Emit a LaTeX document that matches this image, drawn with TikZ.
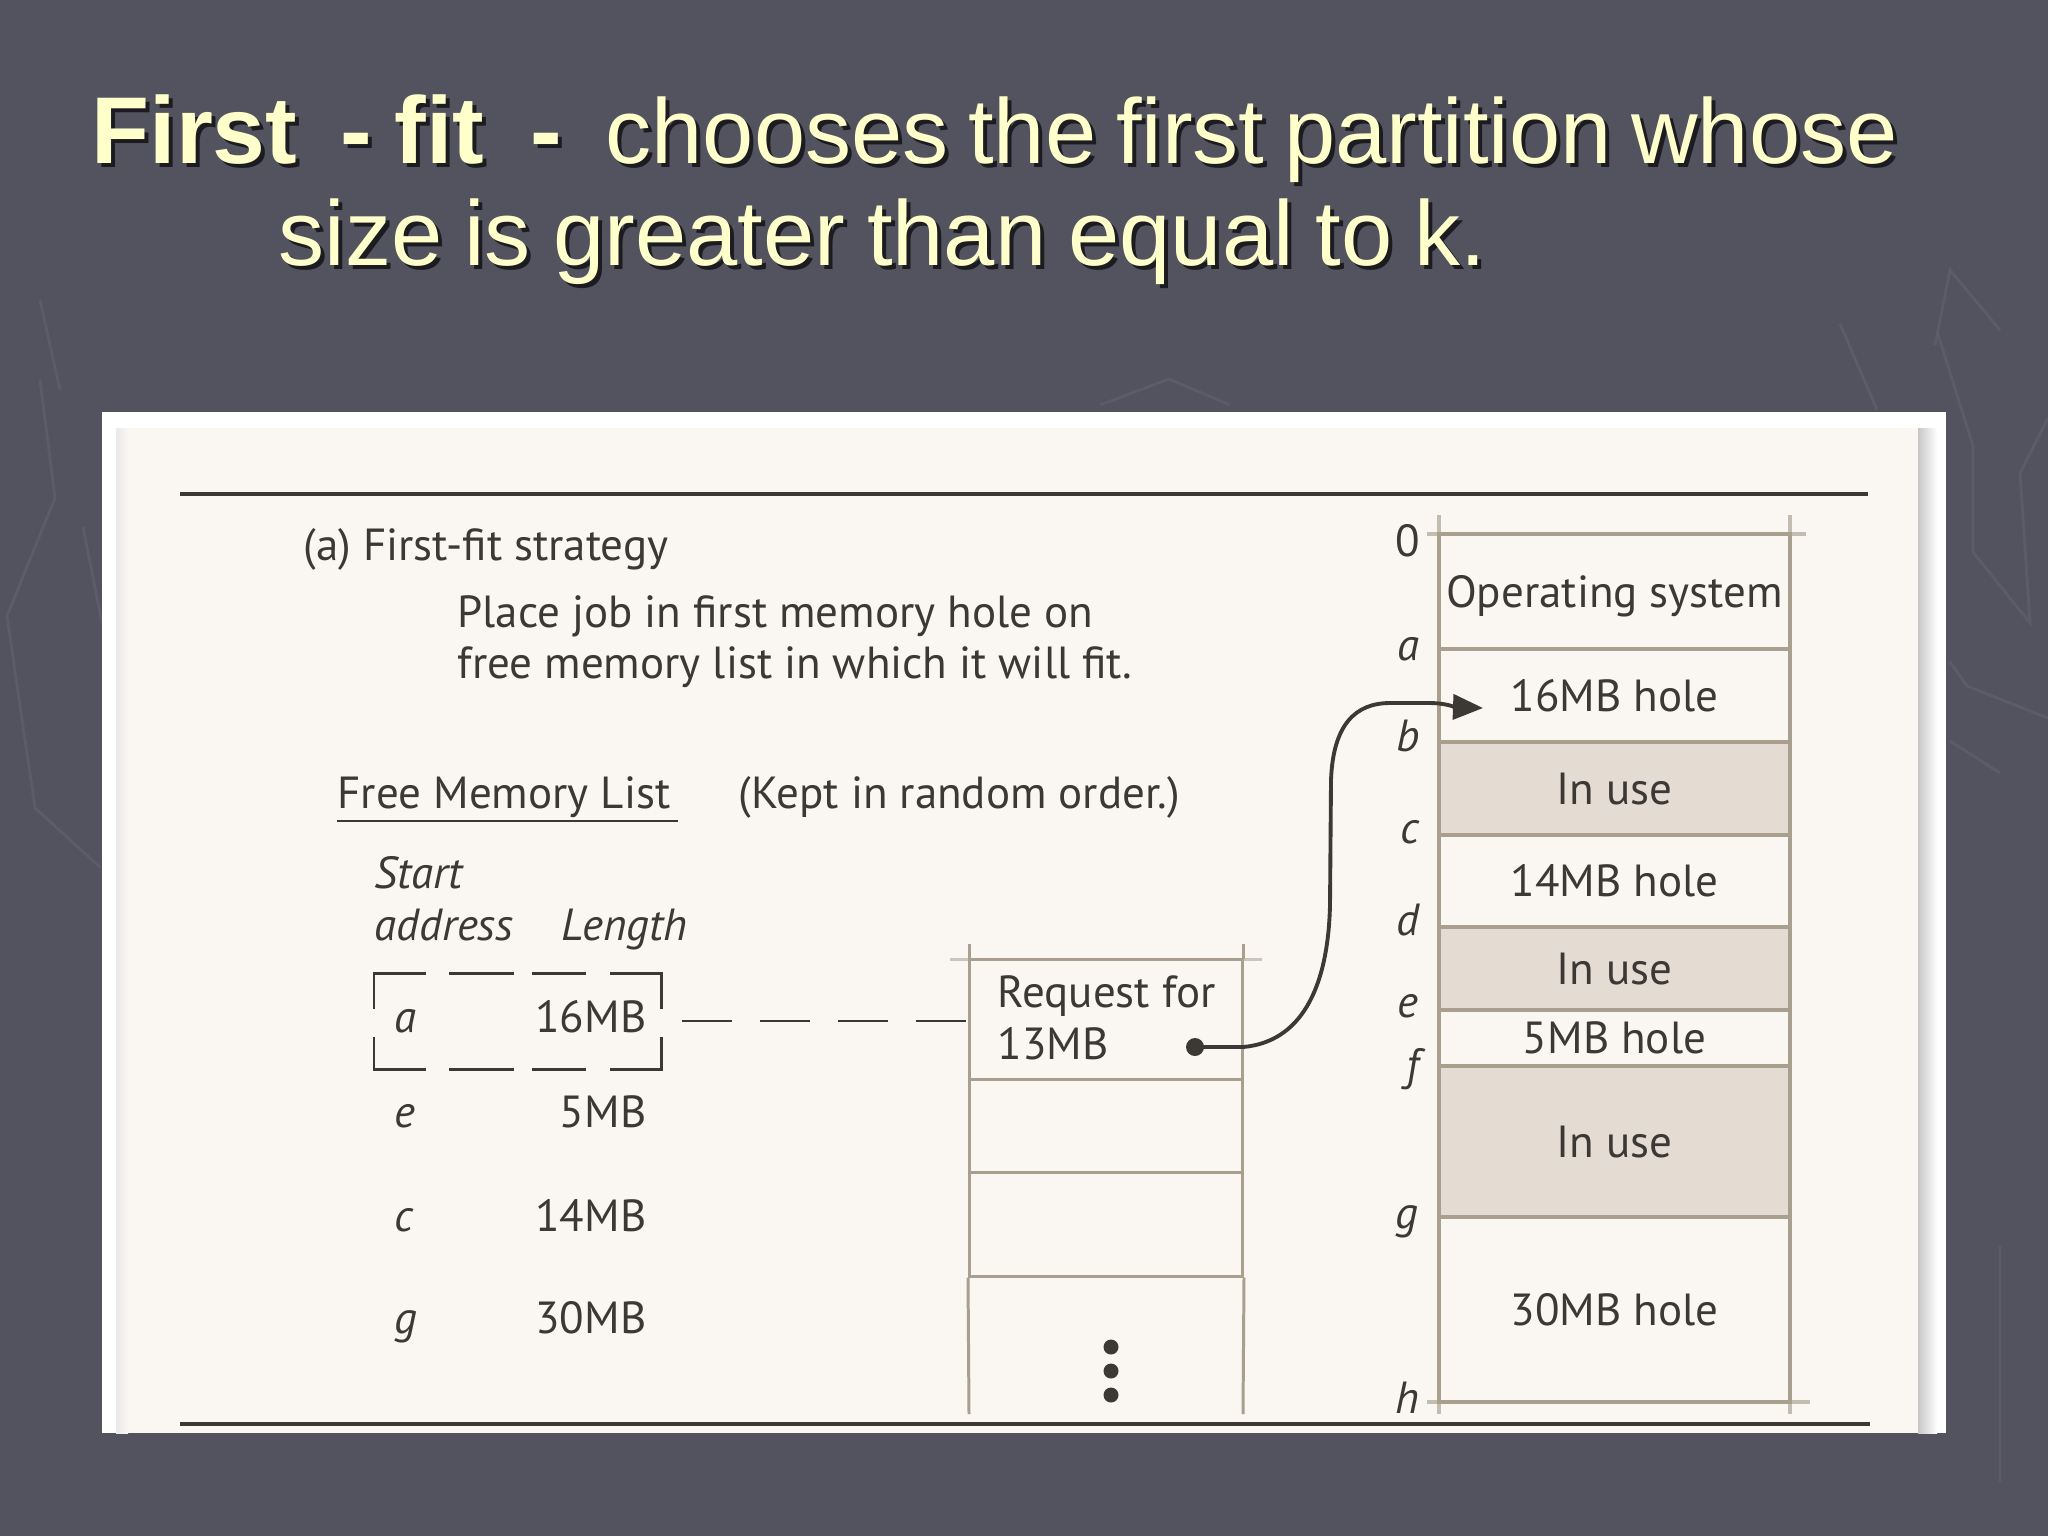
\documentclass[tikz,border=0pt]{standalone}
\usepackage{fontspec}
\setmainfont{Liberation Sans}
\newfontfamily\panelfont{PT Sans}
\usetikzlibrary{arrows.meta}
\definecolor{bg}{HTML}{53535F}
\definecolor{ttlcol}{HTML}{FFFFCC}
\definecolor{shad}{HTML}{1C1C20}
\definecolor{paper}{HTML}{FAF6F1}
\definecolor{ink}{HTML}{3C3836}
\definecolor{tan}{HTML}{A99F8E}
\definecolor{inuse}{HTML}{E4DBD2}
\definecolor{deco}{HTML}{5C5C69}
\newcommand\shtxt[1]{\rlap{\kern0.4mm\raisebox{-0.4mm}{\textcolor{shad}{#1}}}#1}
\tikzset{
  ttl/.style={anchor=base west, inner sep=0, text=ttlcol, font=\fontsize{26.2}{30}\selectfont},
  ttlb/.style={anchor=base west, inner sep=0, text=ttlcol, font=\fontsize{27}{30}\selectfont\bfseries},
  pfont/.style={font=\panelfont\fontsize{12.8}{15}\selectfont, text=ink, inner sep=0},
  pl/.style={pfont, anchor=base west},
  pr/.style={pfont, anchor=base east},
  pli/.style={pl, font=\panelfont\fontsize{12.8}{15}\selectfont\itshape},
  lab/.style={pfont, anchor=base, font=\panelfont\fontsize{12.8}{15}\selectfont\itshape},
  blk/.style={draw=tan, line width=1.1pt, minimum width=35.1mm, inner sep=0, pfont, text height=3.1mm, text depth=0pt},
  used/.style={blk, fill=inuse},
  hole/.style={blk, fill=paper},
  reqbox/.style={draw=tan, line width=0.85pt, minimum width=27.3mm, inner sep=0},
  tanline/.style={tan, line width=0.85pt},
  conn/.style={ink, line width=1.1pt},
  bdash/.style={ink, line width=0.85pt},
  dotn/.style={circle, fill=ink, inner sep=0},
  decol/.style={deco, line width=0.8pt},
}
\begin{document}
\begin{tikzpicture}[x=0.1mm,y=-0.1mm]
\fill[bg] (0,0) rectangle (2048,1536);
\useasboundingbox (0,0) rectangle (2048,1536);
% faint background decoration
\draw[decol] (40,380) -- (55,498) -- (7,616) -- (35,808) -- (100,867);
\draw[decol] (83,527) -- (102,623);
\draw[decol] (40,300) -- (60,390);
\draw[decol] (1840,324) -- (1877,410);
\draw[decol] (1937,331) -- (1973,446) -- (1973,552) -- (2030,623) -- (2020,473) -- (2048,418);
\draw[decol] (1950,662) -- (1967,686) -- (2048,718);
\draw[decol] (1950,741) -- (2000,773);
\draw[decol] (2000,1246) -- (2000,1482);
\draw[decol] (1935,345) -- (1950,270) -- (2000,330);
\draw[decol] (1100,405) -- (1169,379) -- (1230,405);
% title
\node[ttlb] (tF) at (91,163) {\shtxt{First}};
\node[ttlb] (tD1) at (340,163) {\shtxt{-}};
\node[ttlb] (tfit) at (394,163) {\shtxt{fit}};
\node[ttlb] (tD2) at (530,163) {\shtxt{-}};
\node[ttl] (tl1) at (605,163) {\shtxt{\makebox[129.2mm][s]{chooses the first partition whose}}};
\node[ttl] (tl2) at (278,265) {\shtxt{\makebox[120.8mm][s]{size is greater than equal to k.}}};
% panel
\fill[white] (102,412) rectangle (1946,1433);
\fill[paper] (116,428) rectangle (1920,1433);
\shade[left color=black!8, right color=paper] (116,428) rectangle (128,1433);
\shade[left color=black!22, right color=white] (1918,428) rectangle (1937,1433);
\draw[ink, line width=0.9pt] (180,494) -- (1868,494);
\draw[ink, line width=0.9pt] (180,1424) -- (1870,1424);
% headings
\node[pl] (cap) at (303,560) {(a) First-fit strategy};
\node[pl] (pl1) at (457,627) {Place job in first memory hole on};
\node[pl] (pl2) at (457,678) {free memory list in which it will fit.};
\node[pl] (fml) at (337,808) {Free Memory List};
\draw[ink, line width=0.8pt] (337,821) -- (678,821);
\node[pl] (kept) at (738,808) {(Kept in random order.)};
\node[pli] (hst) at (374,888) {Start};
\node[pli] (had) at (374,940) {address};
\node[pli] (hln) at (561,940) {Length};
% free list rows
\node[pli] (ra) at (394,1032) {a};   \node[pr] (la) at (647,1032) {16MB};
\node[pli] (re) at (394,1127) {e};   \node[pr] (le) at (647,1127) {5MB};
\node[pli] (rc) at (394,1231) {c};   \node[pr] (lc) at (647,1231) {14MB};
\node[pli] (rg) at (394,1333) {g};   \node[pr] (lg) at (647,1333) {30MB};
% dashed selection box
\node[minimum width=28.7mm, minimum height=9.6mm, inner sep=0] (sel) at (517.5,1021) {};
\draw[bdash] (374,1009) -- (374,973) -- (426,973);
\draw[bdash] (449,973) -- (514,973);
\draw[bdash] (532,973) -- (586,973);
\draw[bdash] (610,973) -- (661,973) -- (661,1009);
\draw[bdash] (374,1037) -- (374,1069) -- (426,1069);
\draw[bdash] (449,1069) -- (514,1069);
\draw[bdash] (532,1069) -- (586,1069);
\draw[bdash] (610,1069) -- (661,1069) -- (661,1037);
% request stack
\draw[tanline, tan!60] (950,959) -- (1262,959);
\draw[tanline] (969,944) -- (969,959);
\draw[tanline] (1243,944) -- (1243,959);
\node[reqbox, minimum height=12mm] (req) at (1106,1019) {};
\node[reqbox, minimum height=9.3mm] (cell1) at (1106,1125.5) {};
\node[reqbox, minimum height=10.4mm] (cell2) at (1106,1224) {};
\draw[tanline] (cell2.south west) -- (969,1414);
\draw[tanline] (cell2.south east) -- (1243,1414);
\node[pl] (rq1) at (997,1007) {Request for};
\node[pl] (rq2) at (997,1059) {13MB};
\node[dotn, minimum size=1.8mm] (reqdot) at (1195,1047) {};
\node[dotn, minimum size=1.5mm] (vd1) at (1111,1347) {};
\node[dotn, minimum size=1.5mm] (vd2) at (1111,1371) {};
\node[dotn, minimum size=1.5mm] (vd3) at (1111,1395) {};
\draw[ink, line width=0.8pt, dash pattern=on 5mm off 2.8mm] ([xshift=2mm]sel.east) -- (sel.east -| req.west);
% memory column
\draw[tan!70, line width=1.1pt] (1427,534) -- (1806,534);
\draw[tan!70, line width=1.1pt] (1439,515) -- (1439,534);
\draw[tan!70, line width=1.1pt] (1790,515) -- (1790,534);
\draw[tan!70, line width=1.1pt] (1427,1402) -- (1810,1402);
\draw[tan!70, line width=1.1pt] (1439,1402) -- (1439,1414);
\draw[tan!70, line width=1.1pt] (1790,1402) -- (1790,1414);
\node[hole, minimum height=11.5mm] (os) at (1614.5,591.5) {Operating system};
\node[hole, minimum height=9.3mm] (h16) at (1614.5,695.5) {16MB hole};
\node[used, minimum height=9.3mm] (u1) at (1614.5,788.5) {In use};
\node[hole, minimum height=9.2mm] (h14) at (1614.5,881) {14MB hole};
\node[used, minimum height=8.3mm] (u2) at (1614.5,968.5) {In use};
\node[hole, minimum height=5.6mm] (h5) at (1614.5,1038) {5MB hole};
\node[used, minimum height=15.1mm] (u3) at (1614.5,1141.5) {In use};
\node[hole, minimum height=18.5mm] (h30) at (1614.5,1309.5) {30MB hole};
% address labels
\node[pfont, anchor=base] (l0) at (1408,556) {0};
\node[lab] (lA) at (1408,660) {a};
\node[lab] (lB) at (1408,751) {b};
\node[lab] (lC) at (1410,843) {c};
\node[lab] (lD) at (1408,935) {d};
\node[lab] (lE) at (1408,1017) {e};
\node[lab] (lF) at (1413,1080) {f};
\node[lab] (lG) at (1407,1228) {g};
\node[lab] (lH) at (1407,1413) {h};
% curved connector
\coordinate (tip) at (1483,708);
\draw[conn, -{Triangle[length=3mm,width=2.5mm]}] (reqdot.center) -- (1243,1047)
  .. controls (1300,1042) and (1328,990) .. (1330,905) -- (1331,780)
  .. controls (1333,725) and (1355,703) .. (1390,703) -- (1430,703)
  .. controls (1445,703) and (1455,707) .. (tip);
\end{tikzpicture}
\end{document}
